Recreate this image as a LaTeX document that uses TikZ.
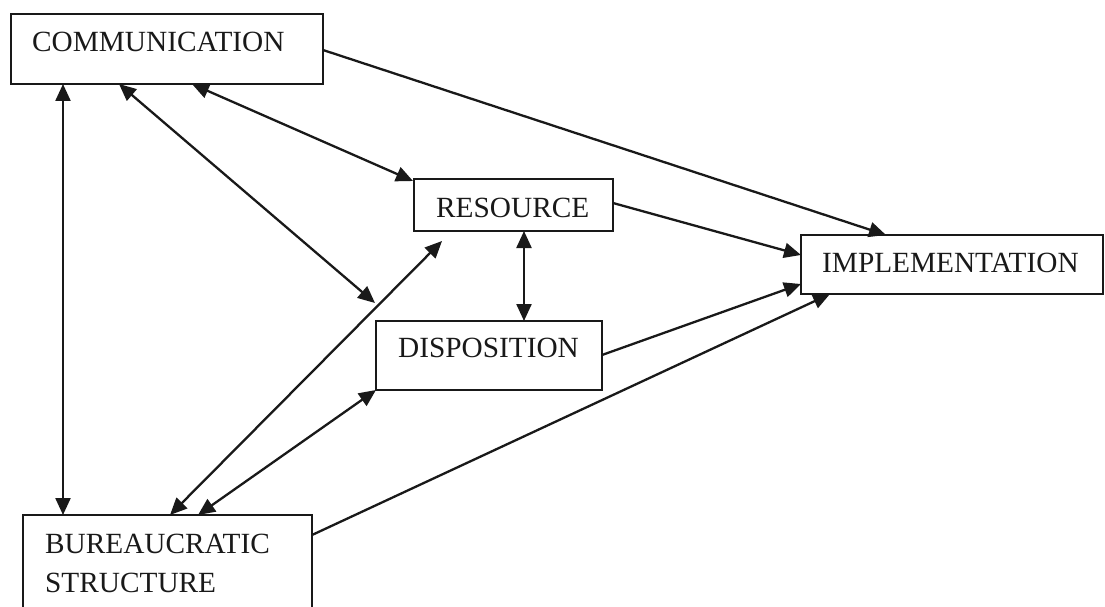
\documentclass[tikz,border=0pt]{standalone}
\usepackage{fontspec}
\setmainfont{Liberation Serif}
\usetikzlibrary{calc,arrows.meta}
\tikzset{
  tip/.tip={Triangle[length=17pt,width=15pt]},
  box/.style={draw=black!90, line width=2pt, rectangle, inner sep=0pt, outer sep=0pt, anchor=north west},
  lbl/.style={anchor=base west, inner sep=0pt, text=black!90, font=\fontsize{29.3}{39}\selectfont},
  link/.style={draw=black!90, line width=2.3pt, -tip},
  both/.style={link, tip-tip}
}
\begin{document}
\begin{tikzpicture}[x=1pt,y=-1pt]
\useasboundingbox (0,0) rectangle (1105,607);

% boxes
\node[box, minimum width=312pt, minimum height=70pt] (comm) at (11,14) {};
\node[box, minimum width=199pt, minimum height=52pt] (res) at (414,179) {};
\node[box, minimum width=226pt, minimum height=69pt] (disp) at (376,321) {};
\node[box, minimum width=302pt, minimum height=59pt] (impl) at (801,235) {};
\node[box, minimum width=289pt, minimum height=125pt] (bur) at (23,515) {};

% labels
\node[lbl] (tcomm) at (32,52) {COMMUNICATION};
\node[lbl] (tres) at (436,217) {RESOURCE};
\node[lbl] (tdisp) at (398,357) {DISPOSITION};
\node[lbl] (timpl) at (822,272) {IMPLEMENTATION};
\node[lbl] (tbur1) at (45,553) {BUREAUCRATIC};
\node[lbl] (tbur2) at (45,592) {STRUCTURE};

% end points off the box borders
\coordinate (dispNW) at ($(disp.north west)+(-1,-18)$);
\coordinate (resNW) at ($(res.north west)+(-1,2)$);
\coordinate (resS) at ($(res.south west)+(28,10)$);

% two-way links
\draw[both] ($(comm.south west)+(52,0)$) -- ($(bur.north west)+(40,0)$);
\draw[both] ($(comm.south west)+(108,0)$) -- (dispNW);
\draw[both] ($(comm.south west)+(181,0)$) -- (resNW);
\draw[both] ($(res.south west)+(110,0)$) -- ($(disp.north west)+(148,0)$);
\draw[both] ($(bur.north west)+(147,0)$) -- (resS);
\draw[both] ($(bur.north west)+(175,0)$) -- (disp.south west);

% one-way links into IMPLEMENTATION
\draw[link] ($(comm.north east)+(0,36)$) -- ($(impl.north west)+(85,0)$);
\draw[link] ($(res.north east)+(0,24)$) -- ($(impl.north west)+(0,20)$);
\draw[link] ($(disp.north east)+(0,34)$) -- ($(impl.north west)+(0,49)$);
\draw[link] ($(bur.north east)+(0,20)$) -- ($(impl.south west)+(29,0)$);
\end{tikzpicture}
\end{document}
